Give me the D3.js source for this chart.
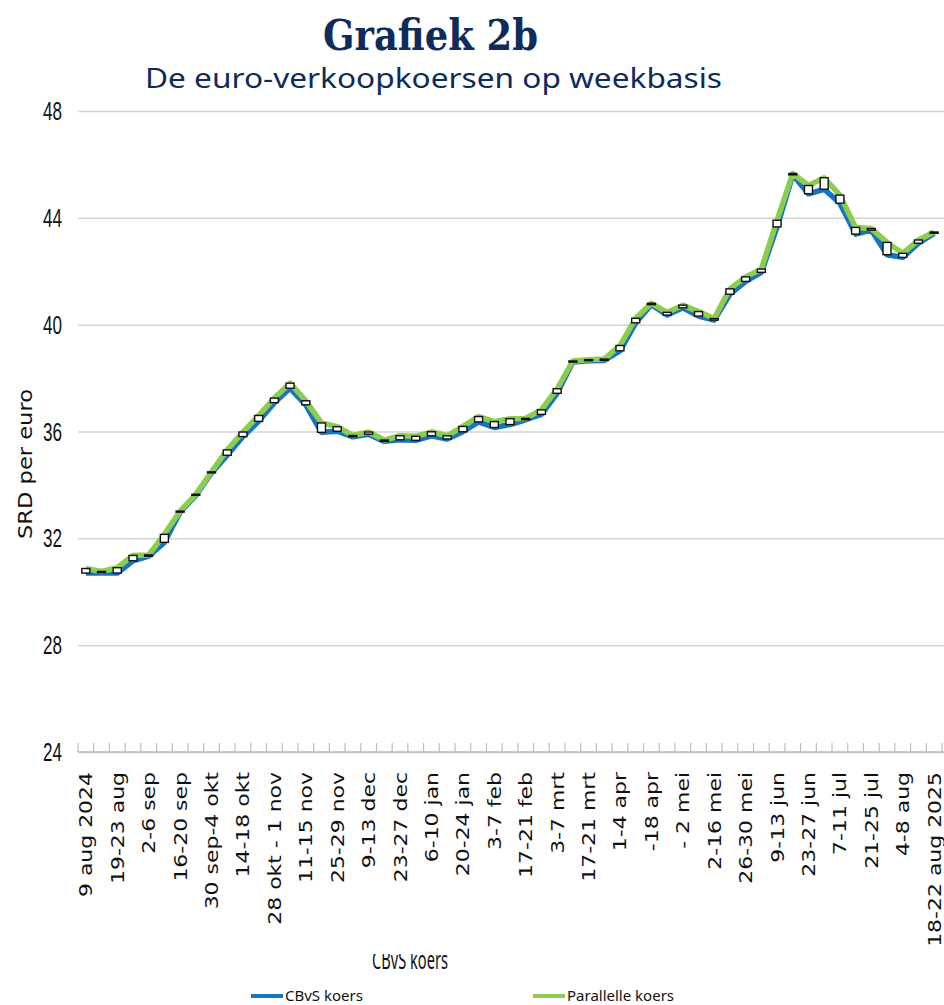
<!DOCTYPE html>
<html>
<head>
<meta charset="utf-8">
<script src="https://cdn.jsdelivr.net/npm/d3@7"></script>
<style>
  html, body { margin: 0; padding: 0; background: #fff; }
  svg { display: block; }
</style>
</head>
<body>
<svg id="chart" width="944" height="1005"></svg>
<script>
// weeks (one point per week)
const weeks = [
  "5-9 aug 2024", "12-16 aug", "19-23 aug", "26-30 aug", "2-6 sep", "9-13 sep",
  "16-20 sep", "23-27 sep", "30 sep-4 okt", "7-11 okt", "14-18 okt", "21-25 okt",
  "28 okt - 1 nov", "4-8 nov", "11-15 nov", "18-22 nov", "25-29 nov", "2-6 dec",
  "9-13 dec", "16-20 dec", "23-27 dec", "30 dec-3 jan", "6-10 jan", "13-17 jan",
  "20-24 jan", "27-31 jan", "3-7 feb", "10-14 feb", "17-21 feb", "24-28 feb",
  "3-7 mrt", "10-14 mrt", "17-21 mrt", "24-28 mrt", "31 mrt-4 apr", "7-11 apr",
  "14-18 apr", "21-25 apr", "28 apr - 2 mei", "5-9 mei", "12-16 mei", "19-23 mei",
  "26-30 mei", "2-6 jun", "9-13 jun", "16-20 jun", "23-27 jun", "30 jun-4 jul",
  "7-11 jul", "14-18 jul", "21-25 jul", "28 jul-1 aug", "4-8 aug", "11-15 aug",
  "18-22 aug 2025"
];

// labels as printed under every second week
const tickLabels = [
  "9 aug 2024", "19-23 aug", "2-6 sep", "16-20 sep", "30 sep-4 okt", "14-18 okt",
  "28 okt - 1 nov", "11-15 nov", "25-29 nov", "9-13 dec", "23-27 dec", "6-10 jan",
  "20-24 jan", "3-7 feb", "17-21 feb", "3-7 mrt", "17-21 mrt", "1-4 apr",
  "-18 apr", "- 2 mei", "2-16 mei", "26-30 mei", "9-13 jun", "23-27 jun",
  "7-11 jul", "21-25 jul", "4-8 aug", "18-22 aug 2025"
];

// CBvS koers (SRD per euro)
const cbvs = [
  30.70, 30.71, 30.70, 31.16, 31.33, 31.85, 32.98, 33.61, 34.45, 35.11,
  35.81, 36.38, 37.08, 37.62, 37.00, 35.97, 36.01, 35.80, 35.90, 35.63,
  35.69, 35.67, 35.84, 35.72, 35.99, 36.36, 36.15, 36.26, 36.44, 36.64,
  37.43, 38.60, 38.65, 38.66, 39.02, 40.07, 40.75, 40.36, 40.63, 40.32,
  40.17, 41.14, 41.62, 41.96, 43.66, 45.61, 44.90, 45.07, 44.55, 43.39,
  43.54, 42.62, 42.52, 43.05, 43.42
];

// Parallelle koers (SRD per euro)
const parallel = [
  30.87, 30.76, 30.90, 31.36, 31.38, 32.15, 33.02, 33.65, 34.49, 35.31,
  35.98, 36.60, 37.25, 37.81, 37.15, 36.32, 36.18, 35.85, 35.98, 35.68,
  35.84, 35.82, 35.99, 35.84, 36.19, 36.56, 36.37, 36.48, 36.49, 36.81,
  37.60, 38.64, 38.69, 38.71, 39.22, 40.24, 40.80, 40.46, 40.73, 40.49,
  40.23, 41.34, 41.79, 42.08, 43.91, 45.66, 45.21, 45.50, 44.85, 43.64,
  43.60, 43.08, 42.67, 43.17, 43.47
];

const yTicks = [24, 28, 32, 36, 40, 44, 48];

// colours
const colorCbvs = '#1674c4';
const colorPar = '#8dcc4e';
const colorTitle = '#0d2b5c';
const colorGrid = '#d3d3d3';

const svg = d3.select('#chart');
const plotLeft = 78, plotRight = 944, plotTop = 111, plotBottom = 752;

const x = d3.scaleBand().domain(weeks).range([plotLeft, 942]).padding(0);
const y = d3.scaleLinear().domain([24, 48]).range([plotBottom, plotTop]);
const xc = w => x(w) + x.bandwidth() / 2;

// title
svg.append('text')
  .attr('x', 323).attr('y', 50)
  .attr('textLength', 215).attr('lengthAdjust', 'spacingAndGlyphs')
  .style('font-family', '"DejaVu Serif", "Liberation Serif", serif')
  .style('font-stretch', 'condensed')
  .style('font-weight', 'bold').style('font-size', '42px')
  .style('fill', colorTitle)
  .text('Grafiek 2b');

svg.append('text')
  .attr('x', 145).attr('y', 88)
  .attr('textLength', 577).attr('lengthAdjust', 'spacingAndGlyphs')
  .style('font-family', '"Noto Sans", sans-serif')
  .style('font-size', '28px')
  .style('fill', colorTitle)
  .text('De euro-verkoopkoersen op weekbasis');

// y axis with gridlines
const yAxis = svg.append('g')
  .attr('transform', `translate(${plotLeft},0)`)
  .call(d3.axisLeft(y).tickValues(yTicks).tickSize(-(plotRight - plotLeft)).tickPadding(16).tickFormat(d3.format('d')));
yAxis.select('.domain').remove();
yAxis.selectAll('.tick line')
  .attr('stroke', colorGrid).attr('stroke-width', 1.5);
yAxis.selectAll('.tick text')
  .attr('dy', '0.34em')
  .attr('textLength', 19).attr('lengthAdjust', 'spacingAndGlyphs')
  .style('font-family', '"Liberation Sans Narrow", "Arial Narrow", "Liberation Sans", sans-serif')
  .style('font-size', '25px')
  .style('fill', '#111');

svg.append('text')
  .attr('transform', 'translate(32,464) rotate(-90)')
  .attr('text-anchor', 'middle')
  .attr('textLength', 150).attr('lengthAdjust', 'spacingAndGlyphs')
  .style('font-family', '"DejaVu Sans", sans-serif')
  .style('font-size', '19px')
  .style('fill', '#111')
  .text('SRD per euro');

// x axis: line, small ticks between weeks, rotated labels
svg.append('line')
  .attr('x1', plotLeft).attr('x2', plotRight).attr('y1', plotBottom).attr('y2', plotBottom)
  .attr('stroke', '#bdbdbd').attr('stroke-width', 1.5);

svg.append('g').selectAll('line')
  .data(weeks.concat(['end']))
  .join('line')
  .attr('x1', (d, i) => plotLeft + i * x.step())
  .attr('x2', (d, i) => plotLeft + i * x.step())
  .attr('y1', plotBottom).attr('y2', plotBottom - 9)
  .attr('stroke', '#bdbdbd').attr('stroke-width', 1.2);

const labelWeeks = weeks.filter((d, i) => i % 2 === 0);
const xAxis = svg.append('g')
  .attr('transform', `translate(0,${plotBottom})`)
  .call(d3.axisBottom(x).tickValues(labelWeeks).tickSize(0)
    .tickFormat((d, i) => tickLabels[i]));
xAxis.select('.domain').remove();
xAxis.selectAll('.tick text')
  .attr('x', 0).attr('y', 0).attr('dy', '0.36em')
  .attr('transform', 'translate(0,20) rotate(-90) scale(1.22,1)')
  .attr('text-anchor', 'end')
  .style('font-family', '"DejaVu Sans", sans-serif')
  .style('font-size', '18px')
  .style('fill', '#111');

// lines
const line = d3.line()
  .x((d, i) => xc(weeks[i]))
  .y(d => y(d))
  .curve(d3.curveLinear);

svg.append('path')
  .datum(cbvs)
  .attr('d', line)
  .attr('fill', 'none')
  .attr('stroke', colorCbvs).attr('stroke-width', 5.5)
  .attr('stroke-linejoin', 'round');

svg.append('path')
  .datum(parallel)
  .attr('d', line)
  .attr('fill', 'none')
  .attr('stroke', colorPar).attr('stroke-width', 5.5)
  .attr('stroke-linejoin', 'round');

// up/down bars between the two series
svg.append('g').selectAll('rect')
  .data(weeks)
  .join('rect')
  .attr('x', d => xc(d) - 4)
  .attr('y', (d, i) => y(Math.max(cbvs[i], parallel[i])))
  .attr('width', 8)
  .attr('height', (d, i) => Math.max(0.5, Math.abs(y(cbvs[i]) - y(parallel[i]))))
  .attr('fill', (d, i) => parallel[i] >= cbvs[i] ? '#fff' : '#111')
  .attr('stroke', '#111').attr('stroke-width', 1.4);

// stray series name under the axis labels
svg.append('clipPath').attr('id', 'cut')
  .append('rect').attr('x', 360).attr('y', 954).attr('width', 120).attr('height', 30);
svg.append('text')
  .attr('clip-path', 'url(#cut)')
  .attr('x', 372).attr('y', 969)
  .attr('textLength', 76).attr('lengthAdjust', 'spacingAndGlyphs')
  .style('font-family', '"Noto Sans", sans-serif')
  .style('font-size', '26px')
  .style('fill', '#111')
  .text('CBvS koers');

// legend
const legend = [
  { name: 'CBvS koers', color: colorCbvs, x: 251 },
  { name: 'Parallelle koers', color: colorPar, x: 533 }
];
const lg = svg.append('g').selectAll('g').data(legend).join('g')
  .attr('transform', d => `translate(${d.x},996)`);
lg.append('line')
  .attr('x1', 0).attr('x2', 32).attr('y1', 0).attr('y2', 0)
  .attr('stroke', d => d.color).attr('stroke-width', 4);
lg.append('text')
  .attr('x', 34).attr('y', 5)
  .style('font-family', '"Noto Sans", sans-serif')
  .style('font-size', '15px')
  .style('fill', '#111')
  .text(d => d.name);
</script>
</body>
</html>
